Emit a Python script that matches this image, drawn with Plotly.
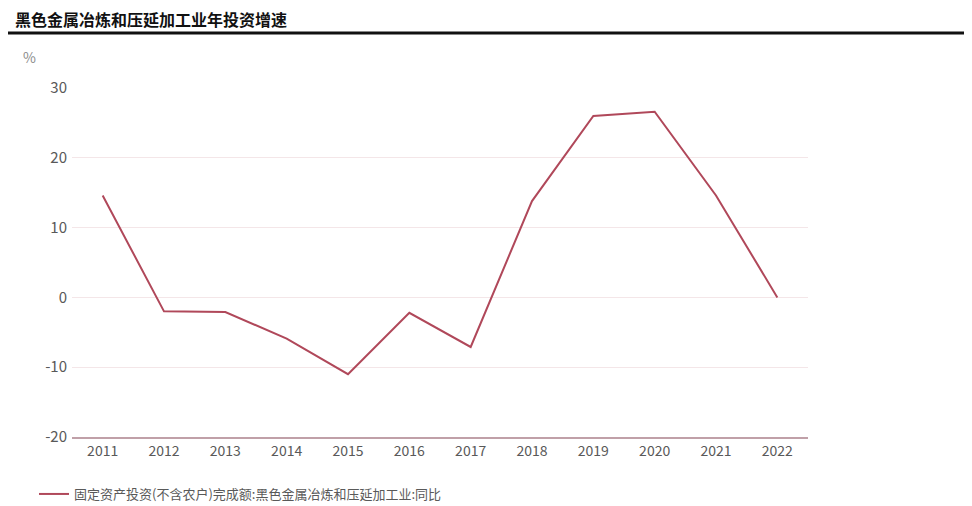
import plotly.graph_objects as go

years = ["2011", "2012", "2013", "2014", "2015", "2016", "2017", "2018", "2019", "2020", "2021", "2022"]
yoy = [14.6, -2.0, -2.1, -5.9, -11.0, -2.2, -7.1, 13.8, 26.0, 26.6, 14.6, 0.0]
series_name = "固定资产投资(不含农户)完成额:黑色金属冶炼和压延加工业:同比"
title_text = "黑色金属冶炼和压延加工业年投资增速"
y_ticks = [-20, -10, 0, 10, 20, 30]
y_tick_labels = ["-20", "-10", "0", "10", "20", "30"]

font_family = "Noto Sans CJK SC, Microsoft YaHei, sans-serif"

W, H = 964, 498          # page body has an 8px margin
OFF = 8
L, T = 72 - OFF, 88 - OFF
R = W - (808 - OFF)
B = H - (437 - OFF)
PW, PH = W - L - R, H - T - B


def px(x):
    return (x - OFF - L) / PW


def py(y):
    return (T + PH - (y - OFF)) / PH


fig = go.Figure()
fig.add_trace(go.Scatter(
    x=years, y=yoy, mode="lines", name=series_name,
    line=dict(color="#b0485a", width=2),
))

fig.update_layout(
    width=W, height=H,
    margin=dict(l=L, r=R, t=T, b=B, autoexpand=False),
    paper_bgcolor="white", plot_bgcolor="white",
    font=dict(family=font_family, color="#595959", size=14),
    showlegend=True,
    legend=dict(orientation="h", x=px(34), y=py(494),
                xanchor="left", yanchor="middle", font=dict(size=13, color="#595959"),
                itemwidth=30),
    xaxis=dict(type="category", range=[-0.5, len(years) - 0.5], showgrid=False,
               showline=True, linecolor="#c0a0a8", automargin=False,
               linewidth=2, ticks="", tickfont=dict(size=14)),
    yaxis=dict(range=[-20, 30], tickvals=y_ticks, ticktext=y_tick_labels,
               showgrid=True, gridcolor="#f4e6e8",
               zeroline=False, showline=False, ticks="", automargin=False,
               tickfont=dict(size=15), ticklabelstandoff=4),
    title=dict(text="<b>" + title_text + "</b>", x=(15 - OFF) / W, xanchor="left",
               y=1 - (20 - OFF) / H, yanchor="middle", font=dict(size=16, color="#111111")),
    shapes=[dict(type="line", xref="paper", yref="paper", x0=px(OFF), x1=px(972),
                 y0=py(33), y1=py(33), line=dict(color="#111111", width=3))],
    annotations=[dict(text="%", xref="paper", yref="paper", x=px(29), y=py(57),
                      showarrow=False, xanchor="center", yanchor="middle",
                      font=dict(size=14, color="#8c8c8c"))],
)

fig.write_html("out.html")
